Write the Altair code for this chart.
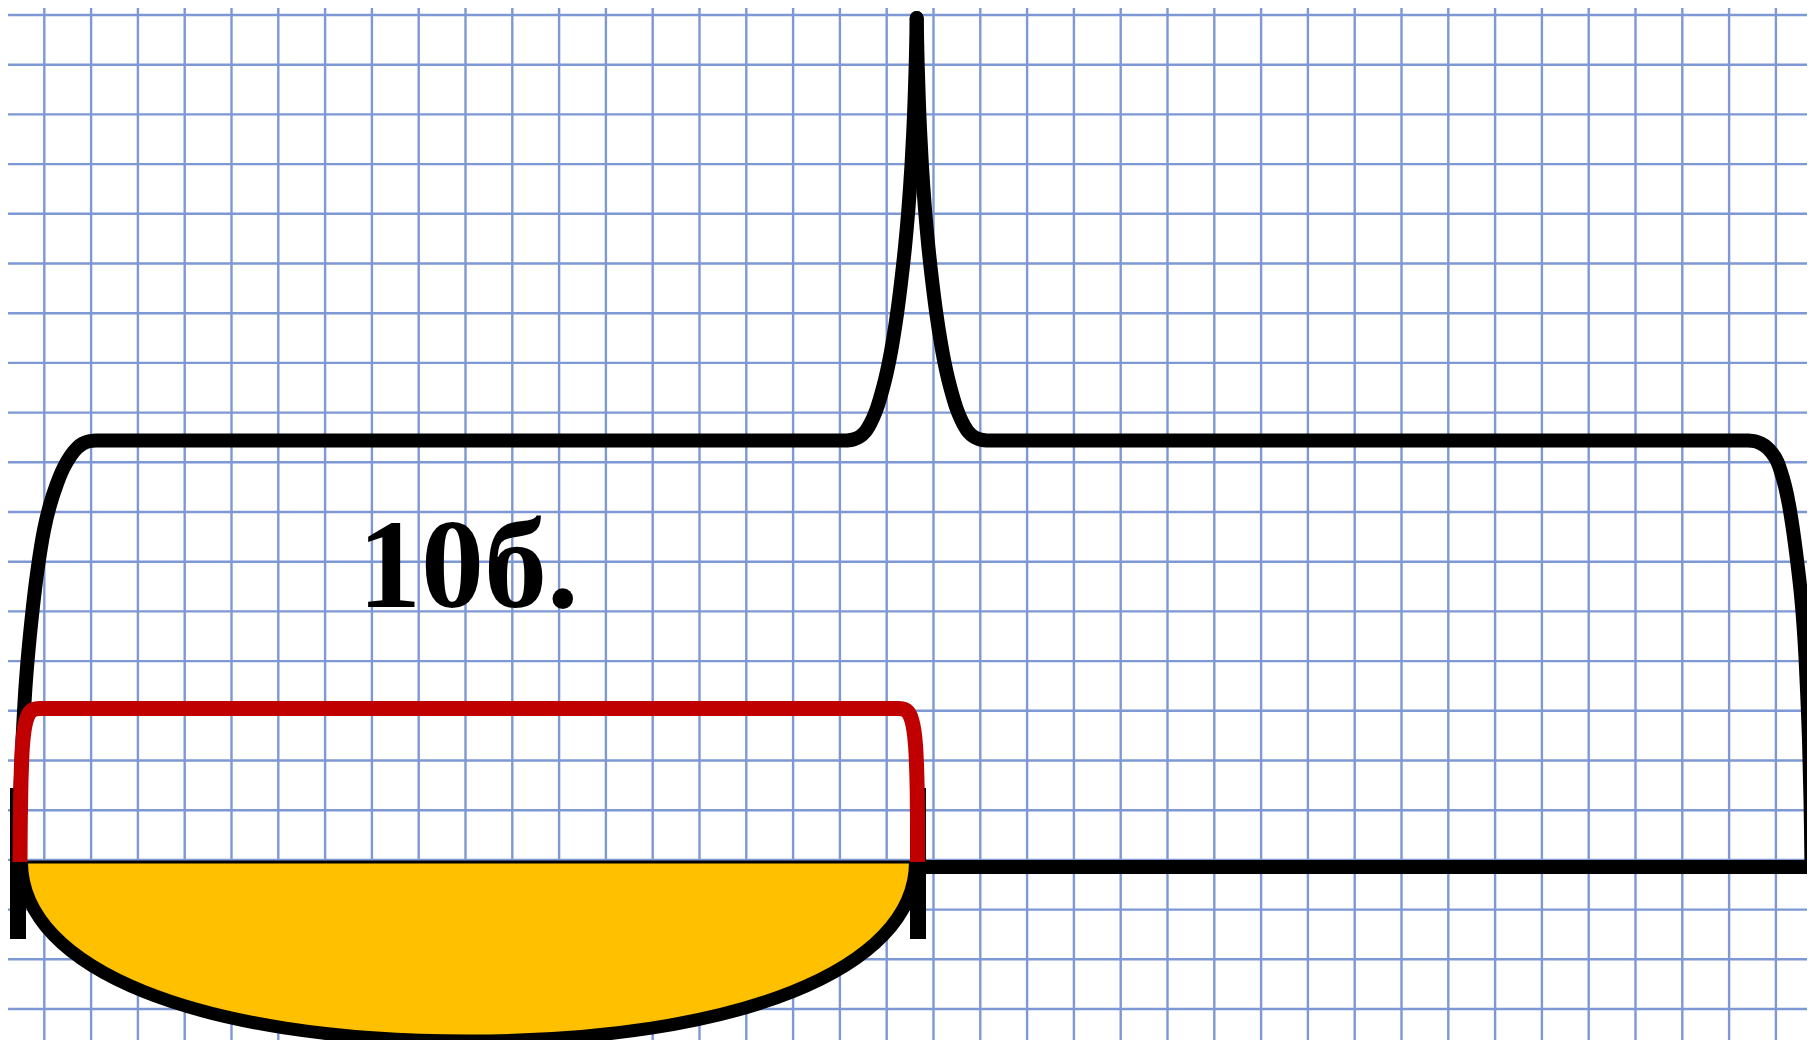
import altair as alt
import pandas as pd

# ---- frame of the drawing (reference picture pixels) ----
X_MIN, X_MAX = 8, 1807
Y_MIN, Y_MAX = 8, 1040
W = X_MAX - X_MIN
H = Y_MAX - Y_MIN

# ---- squared paper ----
GRID_X0, GRID_DX, GRID_NX = 44.3, 46.8, 38
GRID_Y0, GRID_DY, GRID_NY = 15.0, 49.7, 21
grid_x = [round(GRID_X0 + GRID_DX * k, 1) for k in range(GRID_NX)]
grid_y = [round(GRID_Y0 + GRID_DY * k, 1) for k in range(GRID_NY)]

# ---- big black brace (left half up to the peak, right half down) ----
big_left_x = [18, 20, 22.5, 26, 31.5, 37.5, 44, 50, 56.5, 63.5, 70.5, 77, 83, 89, 96, 110,
              835, 847, 854, 860, 865, 869, 873, 877, 881, 885, 889, 893, 897, 901, 905, 908.5,
              911.5, 914, 915.7, 916.7]
big_left_y = [862, 800, 740, 680, 620, 570, 530, 505, 485, 468, 456, 448, 443.5, 441.3, 440.5, 440.5,
              440.5, 440.5, 439.3, 436.5, 432, 426, 418, 408, 395, 380, 362, 340, 314, 283, 247, 208,
              165, 115, 65, 18]
big_right_x = [916.7, 917.7, 919.4, 921.9, 924.9, 928.4, 932.4, 936.4, 940.4, 944.4, 948.4, 952.4, 956.4,
               960.4, 964.4, 968.4, 973.4, 979.4, 986.4, 998.4,
               1735, 1748, 1755, 1761, 1767, 1772, 1777, 1781, 1785, 1789, 1793, 1797, 1801, 1804.5,
               1807, 1809, 1810.5, 1811.5]
big_right_y = [18, 65, 115, 165, 208, 247, 283, 314, 340, 362, 380, 395, 408,
               418, 426, 432, 436.5, 439.3, 440.5, 440.5,
               440.5, 440.5, 441.3, 443.5, 447.5, 453, 461, 472, 486, 505, 530, 560, 595, 640,
               690, 740, 800, 866]

# ---- red brace ----
red_x = [20, 20.3, 20.8, 21.5, 22.5, 24, 26, 28.7, 32, 36, 41, 55,
         885, 897, 902, 906, 909.3, 912, 914, 915.5, 916.5, 917.2, 917.5, 917.5]
red_y = [862, 820, 790, 765, 745, 731, 721, 714, 710.3, 708.8, 708.5, 708.5,
         708.5, 708.5, 708.8, 710.3, 714, 721, 731, 745, 765, 790, 820, 862]

# ---- yellow half (super)ellipse ----
ell_cx, ell_cy = 468.5, 862
ell_rx, ell_ry = 447, 179
ell_k = 0.6  # bezier handle factor (0.552 would be a true ellipse)

# ---- straight pieces ----
top_line_x = [20, 917]
top_line_y = 862
base_line_x = [917, 1815]
base_line_y = 867
tick_x = [18, 918]
tick_y = [788, 939]

# ---- label ----
label = "10б."
label_x, label_y = 358, 607

GRID_COLOR = "#7d98d4"
RED = "#C00000"
YELLOW = "#FFC000"

xs = alt.Scale(domain=[X_MIN, X_MAX], nice=False, zero=False)
ys = alt.Scale(domain=[Y_MIN, Y_MAX], nice=False, zero=False, reverse=True)


def X(f):
    return alt.X(f, type="quantitative", scale=xs, axis=None)


def Y(f):
    return alt.Y(f, type="quantitative", scale=ys, axis=None)


df_gx = pd.DataFrame({"x": grid_x})
df_gy = pd.DataFrame({"y": grid_y})

df_big = pd.concat([
    pd.DataFrame({"x": big_left_x, "y": big_left_y, "part": "left", "i": range(len(big_left_x))}),
    pd.DataFrame({"x": big_right_x, "y": big_right_y, "part": "right", "i": range(len(big_right_x))}),
])
df_red = pd.DataFrame({"x": red_x, "y": red_y, "i": range(len(red_x))})
df_ticks = pd.DataFrame({"x": tick_x, "y": [tick_y[0]] * 2, "y2": [tick_y[1]] * 2})
df_ell = pd.DataFrame({"x": [ell_cx], "y": [ell_cy]})
df_top = pd.DataFrame({"x": [top_line_x[0]], "x2": [top_line_x[1]], "y": [top_line_y]})
df_base = pd.DataFrame({"x": [base_line_x[0]], "x2": [base_line_x[1]], "y": [base_line_y]})
df_label = pd.DataFrame({"x": [label_x], "y": [label_y], "t": [label]})

b = ell_ry / ell_rx
kb = ell_k * b
path_arc = (
    f"M -1 0 C -1 {kb:.4f} {-ell_k} {b:.4f} 0 {b:.4f} "
    f"C {ell_k} {b:.4f} 1 {kb:.4f} 1 0"
)
path_fill = path_arc + " Z"
ell_size = (2 * ell_rx) ** 2

grid_v = alt.Chart(df_gx).mark_rule(color=GRID_COLOR, strokeWidth=2.4).encode(x=X("x"))
grid_h = alt.Chart(df_gy).mark_rule(color=GRID_COLOR, strokeWidth=2.4).encode(y=Y("y"))

big = alt.Chart(df_big).mark_line(
    color="black", strokeWidth=14, interpolate="catmull-rom", strokeCap="round", strokeJoin="round"
).encode(x=X("x"), y=Y("y"), detail="part:N", order=alt.Order("i:Q"))

ticks = alt.Chart(df_ticks).mark_rule(color="black", strokeWidth=16, strokeCap="butt").encode(
    x=X("x"), y=Y("y"), y2="y2:Q"
)

ell_fill = alt.Chart(df_ell).mark_point(
    shape=path_fill, filled=True, fill=YELLOW, size=ell_size, opacity=1, strokeWidth=0
).encode(x=X("x"), y=Y("y"))

ell_stroke = alt.Chart(df_ell).mark_point(
    shape=path_arc, filled=False, color="black", strokeWidth=13, size=ell_size, opacity=1
).encode(x=X("x"), y=Y("y"))

top_line = alt.Chart(df_top).mark_rule(color="black", strokeWidth=3).encode(x=X("x"), x2="x2:Q", y=Y("y"))
base_line = alt.Chart(df_base).mark_rule(color="black", strokeWidth=14, strokeCap="butt").encode(
    x=X("x"), x2="x2:Q", y=Y("y")
)

red = alt.Chart(df_red).mark_line(
    color=RED, strokeWidth=15, interpolate="catmull-rom", strokeCap="butt", strokeJoin="round"
).encode(x=X("x"), y=Y("y"), order=alt.Order("i:Q"))

text = alt.Chart(df_label).mark_text(
    font="Liberation Serif", fontWeight="bold", fontSize=126, align="left", baseline="alphabetic", color="black"
).encode(x=X("x"), y=Y("y"), text="t:N")

chart = alt.layer(
    grid_v, grid_h, big, ticks, ell_fill, ell_stroke, top_line, base_line, red, text
).properties(
    width=W, height=H, padding=0, autosize=alt.AutoSizeParams(type="none"), background="white"
).configure_view(strokeWidth=0)

chart.save("out.html", embed_options={"renderer": "svg", "actions": False})
